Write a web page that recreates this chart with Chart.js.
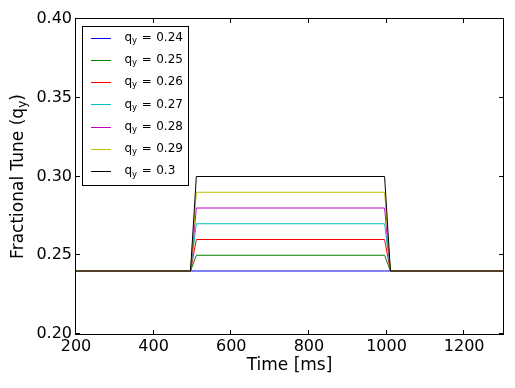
<!DOCTYPE html>
<html><head><meta charset="utf-8">
<script src="https://cdn.jsdelivr.net/npm/chart.js@4/dist/chart.umd.min.js"></script>
<style>html,body{margin:0;padding:0;background:#fff;overflow:hidden}</style>
</head><body>
<canvas id="c" width="515" height="388" style="width:515px;height:388px;display:block"></canvas>
<script>
// ---- data ----
const timeMs = [200, 495, 510, 995, 1010, 1300];
const q024 = [0.24, 0.24, 0.24, 0.24, 0.24, 0.24];
const q025 = [0.24, 0.24, 0.25, 0.25, 0.24, 0.24];
const q026 = [0.24, 0.24, 0.26, 0.26, 0.24, 0.24];
const q027 = [0.24, 0.24, 0.27, 0.27, 0.24, 0.24];
const q028 = [0.24, 0.24, 0.28, 0.28, 0.24, 0.24];
const q029 = [0.24, 0.24, 0.29, 0.29, 0.24, 0.24];
const q030 = [0.24, 0.24, 0.30, 0.30, 0.24, 0.24];
const seriesValues = [q024, q025, q026, q027, q028, q029, q030];
const seriesLabels = ['0.24', '0.25', '0.26', '0.27', '0.28', '0.29', '0.3'];
const seriesColors = ['#0000ff', '#008000', '#ff0000', '#00bfbf', '#bf00bf', '#bfbf00', '#000000'];
const xTicks = [200, 400, 600, 800, 1000, 1200];
const yTicks = [0.20, 0.25, 0.30, 0.35, 0.40];
const xTitle = 'Time [ms]';
const yTitleMain = 'Fractional Tune (q';
const yTitleSub = 'y';
const yTitleEnd = ')';

const FONT = 'DejaVu Sans';

const datasets = seriesValues.map((vals, i) => ({
  label: seriesLabels[i],
  data: vals.map((v, j) => ({x: timeMs[j], y: v})),
  borderColor: seriesColors[i],
  backgroundColor: seriesColors[i],
  borderWidth: 1,
  pointRadius: 0,
  tension: 0,
  fill: false,
  order: seriesValues.length - i
}));

const framePlugin = {
  id: 'frame',
  afterDatasetsDraw(chart) {
    const ctx = chart.ctx, a = chart.chartArea;
    const xs = chart.scales.x, ys = chart.scales.y;
    ctx.save();
    ctx.strokeStyle = '#000';
    ctx.lineWidth = 1;
    ctx.strokeRect(a.left - 0.5, a.top - 0.5, a.right - a.left + 1, a.bottom - a.top + 1);
    ctx.beginPath();
    xTicks.forEach(v => {
      const p = Math.round(xs.getPixelForValue(v)) - 0.5;
      ctx.moveTo(p, a.bottom); ctx.lineTo(p, a.bottom - 4);
      ctx.moveTo(p, a.top); ctx.lineTo(p, a.top + 4);
    });
    yTicks.forEach(v => {
      const p = Math.round(ys.getPixelForValue(v)) - 0.5;
      ctx.moveTo(a.left, p); ctx.lineTo(a.left + 4, p);
      ctx.moveTo(a.right, p); ctx.lineTo(a.right - 4, p);
    });
    ctx.stroke();
    ctx.restore();
  },
  afterDraw(chart) {
    const ctx = chart.ctx, a = chart.chartArea;
    ctx.save();
    // y title with subscript
    const mainF = '17px "' + FONT + '"', subF = '12px "' + FONT + '"';
    ctx.font = mainF; const w1 = ctx.measureText(yTitleMain).width; const w3 = ctx.measureText(yTitleEnd).width;
    ctx.font = subF; const w2 = ctx.measureText(yTitleSub).width;
    const total = w1 + w2 + w3;
    ctx.translate(19, (a.top + a.bottom) / 2);
    ctx.rotate(-Math.PI / 2);
    ctx.fillStyle = '#000';
    ctx.textBaseline = 'middle';
    ctx.textAlign = 'left';
    let x = -total / 2;
    ctx.font = mainF; ctx.fillText(yTitleMain, x, 0); x += w1;
    ctx.font = subF; ctx.fillText(yTitleSub, x, 4); x += w2;
    ctx.font = mainF; ctx.fillText(yTitleEnd, x, 0);
    ctx.restore();

    // legend
    ctx.save();
    const bx = 82.5, by = 26.5, bw = 106, bh = 159;
    ctx.fillStyle = '#fff';
    ctx.fillRect(bx, by, bw, bh);
    ctx.strokeStyle = '#000'; ctx.lineWidth = 1;
    ctx.strokeRect(bx, by, bw, bh);
    ctx.textBaseline = 'middle'; ctx.textAlign = 'left';
    chart.data.datasets.forEach((ds, i) => {
      const y = 37.5 + i * 22.3;
      const yl = Math.round(y) + 0.5;
      ctx.strokeStyle = ds.borderColor; ctx.lineWidth = 1;
      ctx.beginPath(); ctx.moveTo(91, yl); ctx.lineTo(111, yl); ctx.stroke();
      ctx.fillStyle = '#000';
      let tx = 124.5;
      ctx.font = '12px "' + FONT + '"';
      ctx.fillText('q', tx, y); tx += ctx.measureText('q').width;
      ctx.font = '8.5px "' + FONT + '"';
      ctx.fillText('y', tx, y + 3); tx += ctx.measureText('y').width + 4.5;
      ctx.font = '12px "' + FONT + '"';
      ctx.fillText('=', tx, y); tx += ctx.measureText('=').width + 4.5;
      ctx.fillText(ds.label, tx, y);
    });
    ctx.restore();
  }
};

new Chart(document.getElementById('c'), {
  type: 'line',
  data: { datasets },
  options: {
    responsive: false,
    animation: false,
    devicePixelRatio: 1,
    layout: { padding: { top: 19, right: 12, left: 0, bottom: 0 } },
    plugins: { legend: { display: false }, tooltip: { enabled: false } },
    scales: {
      x: {
        type: 'linear', min: 200, max: 1300,
        afterBuildTicks(s) { s.ticks = xTicks.map(v => ({value: v})); },
        afterFit(s) { s.height = 54; },
        grid: { display: false, drawTicks: false },
        border: { display: false },
        ticks: { color: '#000', padding: 3, font: { family: FONT, size: 16 }, maxRotation: 0, autoSkip: false,
                 callback: v => String(v) },
        title: { display: true, text: xTitle, color: '#000', font: { family: FONT, size: 17 }, padding: { top: 0, bottom: 12 } }
      },
      y: {
        type: 'linear', min: 0.2, max: 0.4,
        afterBuildTicks(s) { s.ticks = yTicks.map(v => ({value: v})); },
        afterFit(s) { s.width = 76; },
        grid: { display: false, drawTicks: false },
        border: { display: false },
        ticks: { color: '#000', padding: 4, font: { family: FONT, size: 16 }, autoSkip: false,
                 callback: v => Number(v).toFixed(2) }
      }
    }
  },
  plugins: [framePlugin]
});
</script>
</body></html>
